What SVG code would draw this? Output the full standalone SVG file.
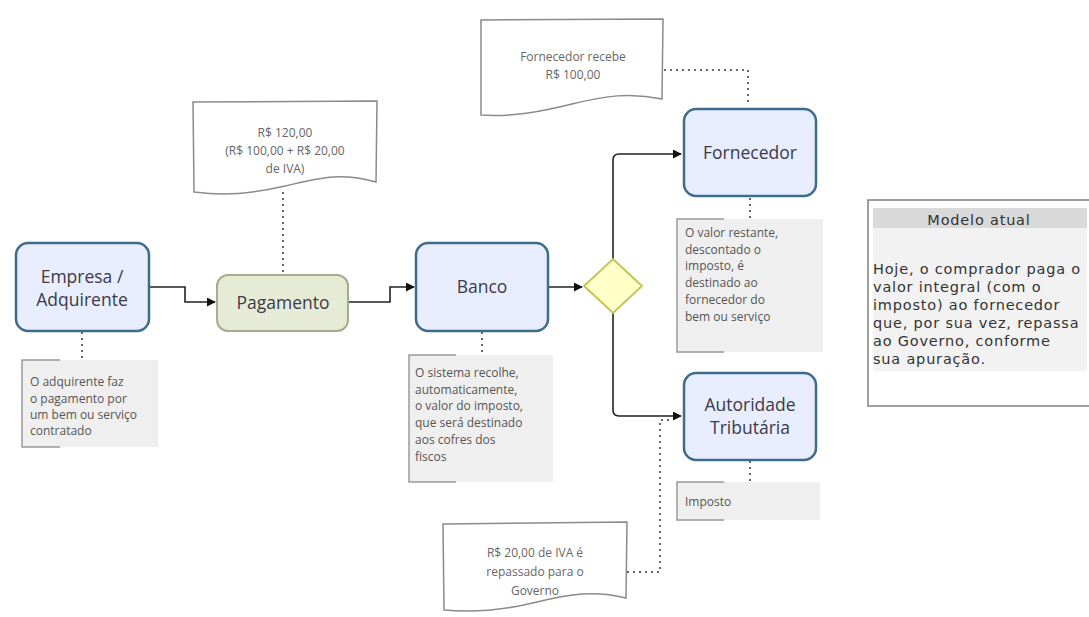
<svg xmlns="http://www.w3.org/2000/svg" width="1089" height="617" viewBox="0 0 1089 617">
<defs>
<marker id="arr" viewBox="0 0 10 10" refX="9" refY="5" markerWidth="9" markerHeight="9" markerUnits="userSpaceOnUse" orient="auto"><path d="M0,0 L10,5 L0,10 z" fill="#111"/></marker>
<style>
.node{fill:#e8eeff;stroke:#3e6c8c;stroke-width:2.5}
.ntext{font-family:"Open Sans","Noto Sans",sans-serif;font-size:17.5px;fill:#3a3a48;text-anchor:middle}
.note{fill:#efefef;stroke:none}
.brk{fill:none;stroke:#9a9a9a;stroke-width:1.5}
.notet{font-family:"Open Sans","Noto Sans",sans-serif;font-size:12px;fill:#555}
.doc{fill:#ffffff;stroke:#8a8a8a;stroke-width:1.5}
.doct{font-family:"Open Sans","Noto Sans",sans-serif;font-size:12px;fill:#666;text-anchor:middle}
.conn{fill:none;stroke:#222;stroke-width:1.6}
.dot{fill:none;stroke:#333;stroke-width:2;stroke-dasharray:0 6;stroke-linecap:round}
.mt{font-family:"DejaVu Sans",sans-serif;font-size:14.5px;letter-spacing:0.8px;fill:#333}
</style>
</defs>
<rect width="1089" height="617" fill="#ffffff"/>

<g id="connectors">
<path class="conn" d="M149,287 H185 V302 H215" marker-end="url(#arr)"/>
<path class="conn" d="M348,302 H390 V287 H414" marker-end="url(#arr)"/>
<path class="conn" d="M548,287 H582" marker-end="url(#arr)"/>
<path class="conn" d="M613,259 V160 Q613,154 619,154 H681" marker-end="url(#arr)"/>
<path class="conn" d="M613,313 V410 Q613,416 619,416 H681" marker-end="url(#arr)"/>
<path class="dot" d="M82,333 V360"/>
<path class="dot" d="M283,193 V273"/>
<path class="dot" d="M482,333 V355"/>
<path class="dot" d="M750,199 V219"/>
<path class="dot" d="M750,462 V482"/>
<path class="dot" d="M665,70 H748 V106"/>
<path class="dot" d="M628,572 H660 V420 H672"/>
</g>

<g id="empresa">
<rect class="node" x="16" y="243" width="133" height="88" rx="12"/>
<text class="ntext" x="82" y="283">Empresa /</text>
<text class="ntext" x="82" y="306">Adquirente</text>
</g>

<g id="pagamento">
<rect x="217" y="275" width="131" height="56" rx="11" fill="#e6ebd6" stroke="#a6ab8a" stroke-width="2"/>
<text class="ntext" x="283" y="309">Pagamento</text>
</g>

<g id="banco">
<rect class="node" x="416" y="243" width="132" height="88" rx="12"/>
<text class="ntext" x="482" y="293">Banco</text>
</g>

<g id="decisao">
<path d="M613,259 L642,286 L613,313 L584,286 z" fill="#ffffc8" stroke="#c4c45a" stroke-width="2"/>
</g>

<g id="fornecedor">
<rect class="node" x="684" y="109" width="132" height="87" rx="12"/>
<text class="ntext" x="750" y="159">Fornecedor</text>
</g>

<g id="autoridade">
<rect class="node" x="684" y="373" width="132" height="87" rx="12"/>
<text class="ntext" x="750" y="411">Autoridade</text>
<text class="ntext" x="750" y="434">Tributária</text>
</g>

<g id="nota-empresa">
<rect class="note" x="22" y="360" width="136" height="87"/>
<path class="brk" d="M60,360 H22 V447 H60"/>
<text class="notet" x="30" y="386">O adquirente faz</text>
<text class="notet" x="30" y="403">o pagamento por</text>
<text class="notet" x="30" y="419">um bem ou serviço</text>
<text class="notet" x="30" y="435">contratado</text>
</g>

<g id="nota-banco">
<rect class="note" x="409" y="355" width="144" height="127"/>
<path class="brk" d="M456,355 H409 V482 H456"/>
<text class="notet" x="415" y="377">O sistema recolhe,</text>
<text class="notet" x="415" y="394">automaticamente,</text>
<text class="notet" x="415" y="410">o valor do imposto,</text>
<text class="notet" x="415" y="427">que será destinado</text>
<text class="notet" x="415" y="444">aos cofres dos</text>
<text class="notet" x="415" y="461">fiscos</text>
</g>

<g id="nota-fornecedor">
<rect class="note" x="677" y="219" width="146" height="133"/>
<path class="brk" d="M724,219 H677 V352 H724"/>
<text class="notet" x="685" y="237">O valor restante,</text>
<text class="notet" x="685" y="254">descontado o</text>
<text class="notet" x="685" y="270">imposto, é</text>
<text class="notet" x="685" y="287">destinado ao</text>
<text class="notet" x="685" y="304">fornecedor do</text>
<text class="notet" x="685" y="321">bem ou serviço</text>
</g>

<g id="nota-imposto">
<rect class="note" x="677" y="482" width="143" height="38"/>
<path class="brk" d="M724,482 H677 V520 H724"/>
<text class="notet" x="685" y="506">Imposto</text>
</g>

<g id="doc-120">
<path class="doc" d="M193,102 L377,101 L376,182 C340,172 320,178 285,186 C250,194 225,196 194,192 Z"/>
<text class="doct" x="285" y="137" font-size="11.5">R$ 120,00</text>
<text class="doct" x="285" y="155" font-size="11.5">(R$ 100,00 + R$ 20,00</text>
<text class="doct" x="285" y="173" font-size="11.5">de IVA)</text>
</g>

<g id="doc-fornecedor">
<path class="doc" d="M481,20 L663,19 L662,99 C630,92 605,96 572,104 C540,112 512,117 481,115 Z"/>
<text class="doct" x="573" y="61">Fornecedor recebe</text>
<text class="doct" x="573" y="79">R$ 100,00</text>
</g>

<g id="doc-governo">
<path class="doc" d="M443,524 L627,522 L626,598 C595,590 570,594 537,602 C505,610 475,613 444,610 Z"/>
<text class="doct" x="535" y="557">R$ 20,00 de IVA é</text>
<text class="doct" x="535" y="576">repassado para o</text>
<text class="doct" x="535" y="595">Governo</text>
</g>

<g id="modelo-atual">
<rect x="868" y="200" width="222" height="206" fill="#ffffff" stroke="#808080" stroke-width="1.5"/>
<rect x="873" y="228" width="214" height="143" fill="#f2f2f2"/>
<rect x="873" y="208" width="214" height="20" fill="#d9d9d9"/>
<text class="mt" x="979" y="225" text-anchor="middle">Modelo atual</text>
<text class="mt" x="873" y="274">Hoje, o comprador paga o</text>
<text class="mt" x="873" y="292">valor integral (com o</text>
<text class="mt" x="873" y="310">imposto) ao fornecedor</text>
<text class="mt" x="873" y="328">que, por sua vez, repassa</text>
<text class="mt" x="873" y="346">ao Governo, conforme</text>
<text class="mt" x="873" y="364">sua apuração.</text>
</g>
</svg>
